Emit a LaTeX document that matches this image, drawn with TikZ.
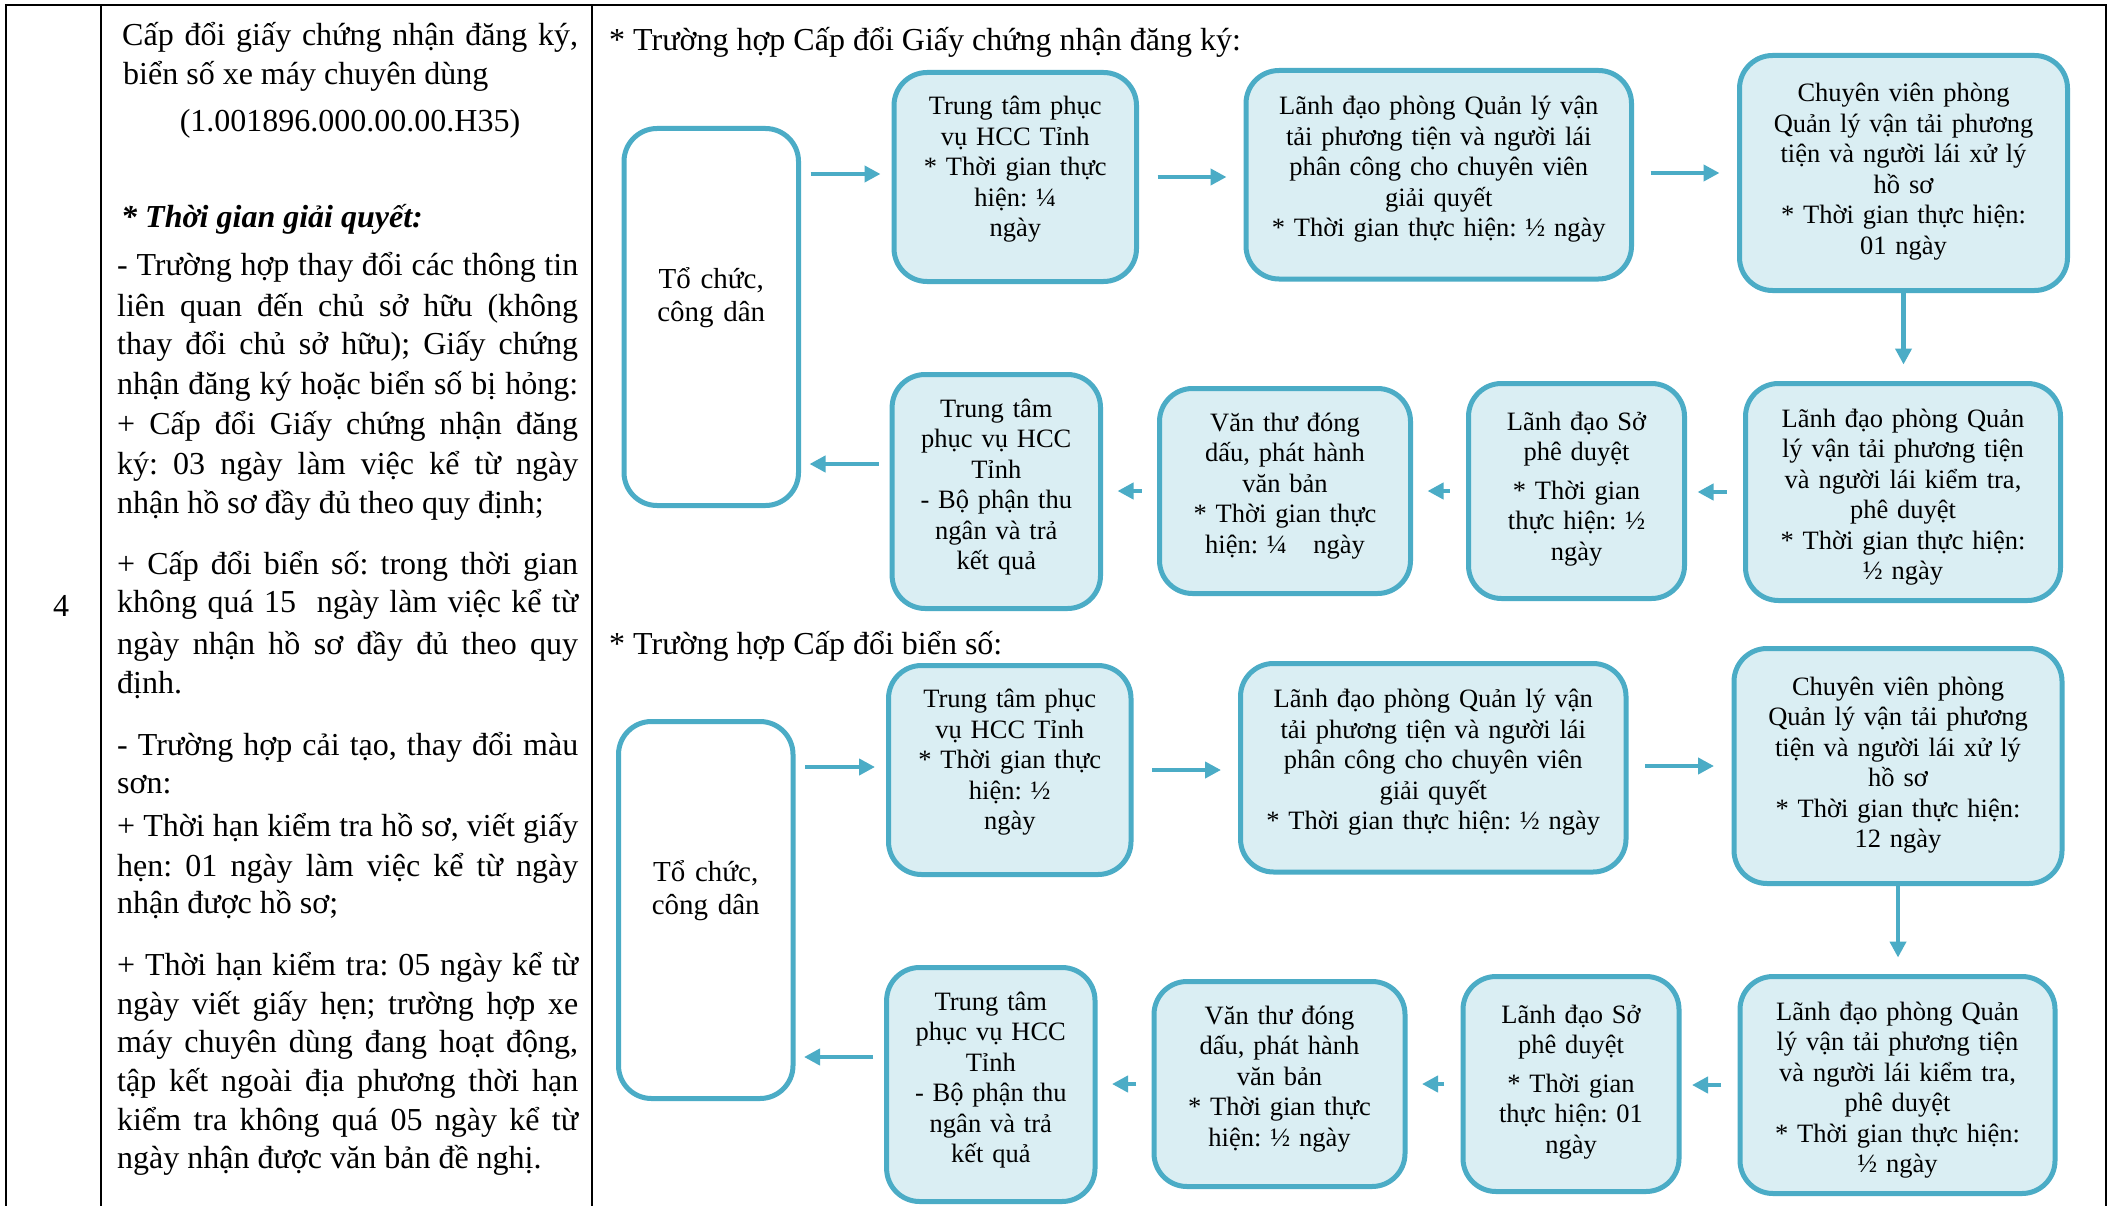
\documentclass[tikz,border=0pt]{standalone}
\usepackage{fontspec}
\setmainfont{Liberation Serif}
\usetikzlibrary{arrows.meta}
\definecolor{bdr}{HTML}{4BACC6}
\definecolor{bfill}{HTML}{DAEEF3}
\newcommand\bxfont{\fontsize{26.5pt}{30.5pt}\selectfont}
\newcommand\lcfont{\fontsize{32pt}{39pt}\selectfont}
\newcommand\tcfont{\fontsize{29pt}{32.4pt}\selectfont}
\begin{document}
\frenchspacing
\begin{tikzpicture}[x=1pt,y=-1pt,
  stepbox/.style={draw=bdr, line width=5pt, fill=bfill, rounded corners=33pt, inner sep=0pt},
  actorbox/.style={stepbox, fill=white},
  btext/.style={anchor=base, font=\bxfont, align=center, inner sep=0pt},
  ltext/.style={anchor=base west, font=\lcfont, inner sep=0pt},
  flow/.style={draw=bdr, line width=4.5pt, -{Triangle[length=16pt,width=16pt]}},
  tline/.style={line width=2.5pt, draw=black}
]
\useasboundingbox (0,0) rectangle (2116,1206);
\fill[white] (0,0) rectangle (2116,1206);

% table lines
\draw[tline] (4.75,5) -- (2107.25,5);
\draw[tline] (6,5) -- (6,1206);
\draw[tline] (101,5) -- (101,1206);
\draw[tline] (592,5) -- (592,1206);
\draw[tline] (2106,5) -- (2106,1206);

% left columns
\node[anchor=base, font=\lcfont, inner sep=0pt] (num) at (61,616) {4};
\node[ltext] (ttl1) at (122,46) {\makebox[456pt][s]{Cấp đổi giấy chứng nhận đăng ký,}};
\node[ltext] (ttl2) at (123,85) {biển số xe máy chuyên dùng};
\node[anchor=base, font=\lcfont, inner sep=0pt] (ttl3) at (350,132) {(1.001896.000.00.00.H35)};
\node[ltext] (tg) at (121,228) {\textbf{\textit{* Thời gian giải quyết:}}};
\foreach \y/\t [count=\i] in {
  275.5/{- Trường hợp thay đổi các thông tin},
  316/{liên quan đến chủ sở hữu (không},
  354/{thay đổi chủ sở hữu); Giấy chứng},
  394/{nhận đăng ký hoặc biển số bị hỏng:},
  434/{+ Cấp đổi Giấy chứng nhận đăng},
  474.5/{ký: 03 ngày làm việc kể từ ngày},
  574/{+ Cấp đổi biển số: trong thời gian},
  612/{không quá 15~ ngày làm việc kể từ},
  654/{ngày nhận hồ sơ đầy đủ theo quy},
  755/{- Trường hợp cải tạo, thay đổi màu},
  836/{+ Thời hạn kiểm tra hồ sơ, viết giấy},
  876/{hẹn: 01 ngày làm việc kể từ ngày},
  975/{+ Thời hạn kiểm tra: 05 ngày kể từ},
  1014/{ngày viết giấy hẹn; trường hợp xe},
  1052/{máy chuyên dùng đang hoạt động,},
  1091/{tập kết ngoài địa phương thời hạn},
  1130/{kiểm tra không quá 05 ngày kể từ}}
  {\node[ltext] (lj\i) at (117,\y) {\makebox[461pt][s]{\t}};}
\foreach \y/\t [count=\i] in {
  513/{nhận hồ sơ đầy đủ theo quy định;},
  693/{định.},
  793/{sơn:},
  913/{nhận được hồ sơ;},
  1168/{ngày nhận được văn bản đề nghị.}}
  {\node[ltext] (ll\i) at (117,\y) {\t};}

% headers
\node[ltext] (h1) at (609,51) {* Trường hợp Cấp đổi Giấy chứng nhận đăng ký:};
\node[ltext] (h2) at (609,654) {* Trường hợp Cấp đổi biển số:};

% ===== section 1 =====
\node[actorbox, minimum width=174.5pt, minimum height=377pt] (T1) at (711.25,317) {};
\node[stepbox, minimum width=242.5pt, minimum height=209pt] (A1) at (1015.25,177) {};
\node[stepbox, minimum width=385.5pt, minimum height=208.5pt] (B1) at (1438.75,174.75) {};
\node[stepbox, minimum width=328pt, minimum height=235pt] (C1) at (1903.5,173) {};
\node[stepbox, minimum width=315pt, minimum height=217pt] (D1) at (1903,492) {};
\node[stepbox, minimum width=216pt, minimum height=215pt] (E1) at (1576.5,491) {};
\node[stepbox, minimum width=251pt, minimum height=205pt] (F1) at (1285,491) {};
\node[stepbox, minimum width=208.4pt, minimum height=234pt] (G1) at (996.3,491.5) {};

\coordinate (a1in) at ([yshift=3pt]A1.west);
\draw[flow, shorten <=9.5pt, shorten >=11pt] (a1in -| T1.east) -- (a1in);
\draw[flow, shorten <=18.5pt, shorten >=17pt] (A1.east) -- (A1.east -| B1.west);
\draw[flow, shorten <=16.5pt, shorten >=17.5pt] (C1.west -| B1.east) -- (C1.west);
\draw[flow, shorten >=16.5pt] (C1.south) -- (C1.south |- D1.north);
\draw[flow, shorten <=16.5pt, shorten >=10.5pt] (D1.west) -- (D1.west -| E1.east);
\draw[flow, shorten <=16.5pt, shorten >=14.5pt] (E1.west) -- (E1.west -| F1.east);
\draw[flow, shorten <=15.5pt, shorten >=14.5pt] (F1.west) -- (F1.west -| G1.east);
\coordinate (g1out) at ([yshift=27.5pt]G1.west);
\draw[flow, shorten <=11pt, shorten >=8.5pt] (g1out) -- (g1out -| T1.east);

\node[btext, font=\tcfont, text width=160pt] (tT1) at (711.25,288.6) {Tổ chức,\\công dân};
\node[btext, text width=225pt] (tA1) at (1015.25,114.7) {Trung tâm phục\\vụ HCC Tỉnh\\{}* Thời gian thực\\hiện: ¼\\ngày};
\node[btext, text width=370pt] (tB1) at (1438.75,114.7) {Lãnh đạo phòng Quản lý vận\\tải phương tiện và người lái\\phân công cho chuyên viên\\giải quyết\\{}* Thời gian thực hiện: ½ ngày};
\node[btext, text width=310pt] (tC1) at (1903.5,102) {Chuyên viên phòng\\Quản lý vận tải phương\\tiện và người lái xử lý\\hồ sơ\\{}* Thời gian thực hiện:\\01 ngày};
\node[btext, text width=300pt] (tD1) at (1903,427) {Lãnh đạo phòng Quản\\lý vận tải phương tiện\\và người lái kiểm tra,\\phê duyệt\\{}* Thời gian thực hiện:\\½ ngày};
\node[btext, text width=200pt] (tE1) at (1576.5,430) {Lãnh đạo Sở\\phê duyệt\\[8pt]{}* Thời gian\\thực hiện: ½\\ngày};
\node[btext, text width=235pt] (tF1) at (1285,431) {Văn thư đóng\\dấu, phát hành\\văn bản\\{}* Thời gian thực\\hiện: ¼~~~ngày};
\node[btext, text width=195pt] (tG1) at (996.3,417) {Trung tâm\\phục vụ HCC\\Tỉnh\\- Bộ phận thu\\ngân và trả\\kết quả};

% ===== section 2 =====
\begin{scope}[shift={(-5.5,593)}]
\node[actorbox, minimum width=174.5pt, minimum height=377pt] (T2) at (711.25,317) {};
\node[stepbox, minimum width=242.5pt, minimum height=209pt] (A2) at (1015.25,177) {};
\node[stepbox, minimum width=385.5pt, minimum height=208.5pt] (B2) at (1438.75,174.75) {};
\node[stepbox, minimum width=328pt, minimum height=235pt] (C2) at (1903.5,173) {};
\node[stepbox, minimum width=315pt, minimum height=217pt] (D2) at (1903,492) {};
\node[stepbox, minimum width=216pt, minimum height=215pt] (E2) at (1576.5,491) {};
\node[stepbox, minimum width=251pt, minimum height=205pt] (F2) at (1285,491) {};
\node[stepbox, minimum width=208.4pt, minimum height=234pt] (G2) at (996.3,491.5) {};

\coordinate (a2in) at ([yshift=3pt]A2.west);
\draw[flow, shorten <=9.5pt, shorten >=11pt] (a2in -| T2.east) -- (a2in);
\draw[flow, shorten <=18.5pt, shorten >=17pt] (A2.east) -- (A2.east -| B2.west);
\draw[flow, shorten <=16.5pt, shorten >=17.5pt] (C2.west -| B2.east) -- (C2.west);
\draw[flow, shorten >=16.5pt] (C2.south) -- (C2.south |- D2.north);
\draw[flow, shorten <=16.5pt, shorten >=10.5pt] (D2.west) -- (D2.west -| E2.east);
\draw[flow, shorten <=16.5pt, shorten >=14.5pt] (E2.west) -- (E2.west -| F2.east);
\draw[flow, shorten <=15.5pt, shorten >=14.5pt] (F2.west) -- (F2.west -| G2.east);
\coordinate (g2out) at ([yshift=27.5pt]G2.west);
\draw[flow, shorten <=11pt, shorten >=8.5pt] (g2out) -- (g2out -| T2.east);

\node[btext, font=\tcfont, text width=160pt] (tT2) at (711.25,288.6) {Tổ chức,\\công dân};
\node[btext, text width=225pt] (tA2) at (1015.25,114.7) {Trung tâm phục\\vụ HCC Tỉnh\\{}* Thời gian thực\\hiện: ½\\ngày};
\node[btext, text width=370pt] (tB2) at (1438.75,114.7) {Lãnh đạo phòng Quản lý vận\\tải phương tiện và người lái\\phân công cho chuyên viên\\giải quyết\\{}* Thời gian thực hiện: ½ ngày};
\node[btext, text width=310pt] (tC2) at (1903.5,102) {Chuyên viên phòng\\Quản lý vận tải phương\\tiện và người lái xử lý\\hồ sơ\\{}* Thời gian thực hiện:\\12 ngày};
\node[btext, text width=300pt] (tD2) at (1903,427) {Lãnh đạo phòng Quản\\lý vận tải phương tiện\\và người lái kiểm tra,\\phê duyệt\\{}* Thời gian thực hiện:\\½ ngày};
\node[btext, text width=200pt] (tE2) at (1576.5,430) {Lãnh đạo Sở\\phê duyệt\\[8pt]{}* Thời gian\\thực hiện: 01\\ngày};
\node[btext, text width=235pt] (tF2) at (1285,431) {Văn thư đóng\\dấu, phát hành\\văn bản\\{}* Thời gian thực\\hiện: ½ ngày};
\node[btext, text width=195pt] (tG2) at (996.3,417) {Trung tâm\\phục vụ HCC\\Tỉnh\\- Bộ phận thu\\ngân và trả\\kết quả};
\end{scope}
\end{tikzpicture}
\end{document}
